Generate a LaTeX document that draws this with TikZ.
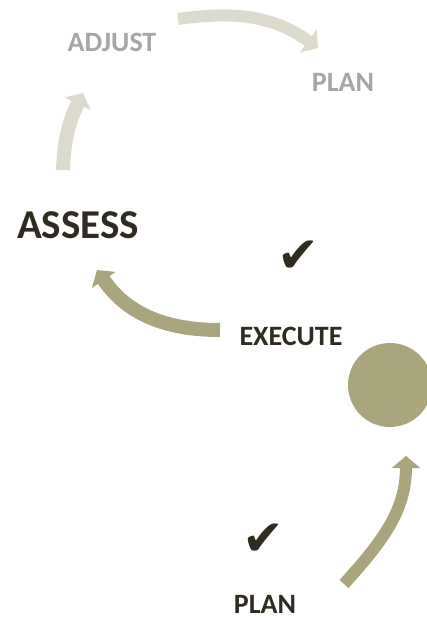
\documentclass[tikz,border=0pt]{standalone}
\usepackage{fontspec}
\setmainfont{Carlito}
\newfontfamily\symfont{DejaVu Sans}
\usetikzlibrary{arrows.meta}
\definecolor{lightarrow}{HTML}{DDDBCD}
\definecolor{olive}{HTML}{A9A57C}
\definecolor{graytext}{HTML}{A6A6A6}
\definecolor{darktext}{HTML}{2F2B20}
\tikzset{
  lbl/.style={font=\bfseries\fontsize{28}{30}\selectfont, anchor=base, inner sep=0pt},
  faded/.style={lbl, text=graytext},
  active/.style={lbl, text=darktext},
  tick/.style={font=\symfont\fontsize{50}{52}\selectfont, text=darktext, inner sep=0pt},
  lightarr/.style={draw=lightarrow, line width=12pt, -{Triangle[width=28pt,length=12pt]}},
  olivearr/.style={draw=olive, line width=14pt, -{Triangle[width=28pt,length=12pt]}},
}
\begin{document}
\begin{tikzpicture}[x=1pt,y=-1pt]
\useasboundingbox (0,0) rectangle (427,620);
\clip (0,0) rectangle (427,620);
% labels
\node[faded] (adjust) at (112,52) {ADJUST};
\node[faded] (plantop) at (343,92) {PLAN};
\node[active, font=\bfseries\fontsize{41}{43}\selectfont] (assess) at (78,238) {ASSESS};
\node[active] (execute) at (291,345) {EXECUTE};
\node[active] (planbot) at (265,613) {PLAN};
\node[tick] (tick1) at (298,257) {✔};
\node[tick] (tick2) at (263,540) {✔};
% current-stage marker
\node[circle, fill=olive, minimum size=84pt, inner sep=0pt] (dot) at (390,385) {};
% arrow end points
\coordinate (t1) at (178,19);
\coordinate (h1) at (318,48);
\coordinate (t2) at (63,170);
\coordinate (h2) at (83,93);
\coordinate (t3) at (220,330);
\coordinate (h3) at (97,270);
\coordinate (t4) at (344,584);
\coordinate (h4) at (406,456);
% arrows
\draw[lightarr] (t1) to[out=8,in=144] (h1);
\draw[lightarr, line width=14pt] (t2) to[out=88,in=244] (h2);
\draw[olivearr] (t3) to[out=180,in=304] (h3);
\draw[olivearr, line width=12pt] (t4) to[out=48,in=270] (h4);
\end{tikzpicture}
\end{document}
